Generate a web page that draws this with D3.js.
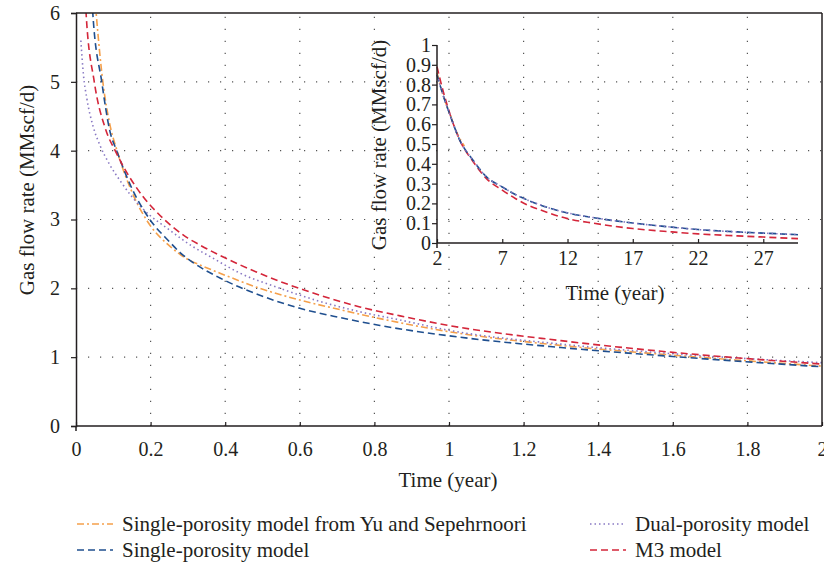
<!DOCTYPE html>
<html>
<head>
<meta charset="utf-8">
<script src="https://cdn.jsdelivr.net/npm/d3@7"></script>
<style>
  body { margin: 0; background: #fff; }
  text { font-family: "Liberation Serif", "DejaVu Serif", serif; fill: #231f20; }
</style>
</head>
<body>
<script>
// main chart data (time in years, rate in MMscf/d)
var yuTime  = [0.04, 0.054, 0.072, 0.09, 0.11, 0.15, 0.198, 0.25, 0.3, 0.332, 0.386, 0.493, 0.6, 0.708, 0.815, 1.0, 1.3, 1.6, 2.0];
var yuRate  = [7.0, 6.0, 5.0, 4.4, 4.0, 3.4, 2.92, 2.62, 2.42, 2.34, 2.22, 2.0, 1.83, 1.69, 1.56, 1.37, 1.17, 1.03, 0.87];
var spTime  = [0.035, 0.045, 0.069, 0.091, 0.109, 0.15, 0.198, 0.25, 0.279, 0.315, 0.386, 0.493, 0.6, 0.708, 0.815, 1.0, 1.3, 1.6, 2.0];
var spRate  = [7.0, 6.0, 5.0, 4.28, 4.0, 3.45, 3.0, 2.68, 2.52, 2.37, 2.15, 1.9, 1.71, 1.575, 1.46, 1.31, 1.14, 1.01, 0.86];
var dpTime  = [0.013, 0.02, 0.029, 0.046, 0.064, 0.09, 0.12, 0.15, 0.18, 0.25, 0.315, 0.36, 0.44, 0.547, 0.654, 0.761, 0.869, 1.0, 1.3, 1.6, 2.0];
var dpRate  = [5.6, 5.1, 4.76, 4.35, 4.08, 3.8, 3.55, 3.33, 3.15, 2.85, 2.6, 2.46, 2.22, 2.0, 1.81, 1.66, 1.54, 1.39, 1.19, 1.05, 0.92];
var m3Time  = [0.018, 0.027, 0.049, 0.08, 0.105, 0.18, 0.216, 0.3, 0.332, 0.44, 0.547, 0.654, 0.761, 0.869, 1.0, 1.3, 1.6, 2.0];
var m3Rate  = [7.0, 6.0, 5.0, 4.3, 4.0, 3.33, 3.11, 2.73, 2.63, 2.34, 2.1, 1.9, 1.73, 1.6, 1.46, 1.24, 1.07, 0.9];

// inset data (long-term)
var inYuTime = [2, 2.5, 3, 3.5, 4.1];
var inYuRate = [0.86, 0.74, 0.65, 0.56, 0.49];
var inSpTime = [2, 2.5, 3, 3.74, 4.76, 5.79, 7, 8, 9, 10, 12, 14, 17, 20, 22, 25, 27, 29.66];
var inSpRate = [0.85, 0.74, 0.646, 0.52, 0.418, 0.334, 0.283, 0.245, 0.215, 0.19, 0.152, 0.128, 0.101, 0.08, 0.068, 0.056, 0.05, 0.042];
var inDpRate = [0.85, 0.74, 0.646, 0.52, 0.418, 0.334, 0.283, 0.245, 0.215, 0.19, 0.152, 0.128, 0.101, 0.08, 0.068, 0.056, 0.05, 0.042];
var inM3Time = [2, 2.5, 3, 3.74, 4.76, 5.79, 7, 8, 9, 10, 12, 14, 17, 20, 22, 25, 27, 29.66];
var inM3Rate = [0.89, 0.76, 0.65, 0.52, 0.412, 0.325, 0.267, 0.225, 0.19, 0.165, 0.123, 0.1, 0.073, 0.056, 0.046, 0.036, 0.03, 0.022];

var xTicks = [0, 0.2, 0.4, 0.6, 0.8, 1, 1.2, 1.4, 1.6, 1.8, 2];
var yTicks = [0, 1, 2, 3, 4, 5, 6];
var inXTicks = [2, 7, 12, 17, 22, 27];
var inYTicks = [0, 0.1, 0.2, 0.3, 0.4, 0.5, 0.6, 0.7, 0.8, 0.9, 1];

var legendNames = ["Single-porosity model from Yu and Sepehrnoori", "Single-porosity model", "Dual-porosity model", "M3 model"];

var colors = { yu: "#f5a04b", sp: "#1f4f8f", dp: "#8878c3", m3: "#d4263a" };
var dashes = { yu: "7,3,2,3", sp: "7,4", dp: "1.5,3", m3: "7,4" };

var svg = d3.select("body").append("svg").attr("width", 824).attr("height", 564);

var x = d3.scaleLinear().domain([0, 2]).range([76, 822]);
var y = d3.scaleLinear().domain([0, 6]).range([426, 13]);

// grid
svg.append("g").selectAll("line").data(xTicks.slice(1, -1)).enter().append("line")
  .attr("x1", d => x(d)).attr("x2", d => x(d)).attr("y1", y(0)).attr("y2", y(6))
  .attr("stroke", "#555").attr("stroke-width", 1.2).attr("stroke-dasharray", "1.2,10.8");
svg.append("g").selectAll("line").data(yTicks.slice(1, -1)).enter().append("line")
  .attr("x1", x(0)).attr("x2", x(2)).attr("y1", d => y(d)).attr("y2", d => y(d))
  .attr("stroke", "#555").attr("stroke-width", 1.2).attr("stroke-dasharray", "1.2,10.8");

// clip
svg.append("clipPath").attr("id", "clip").append("rect")
  .attr("x", x(0)).attr("y", y(6)).attr("width", x(2) - x(0)).attr("height", y(0) - y(6));

function series(xs, ys) { return xs.map((t, i) => [t, ys[i]]); }

var line = d3.line().x(d => x(d[0])).y(d => y(d[1])).curve(d3.curveMonotoneX);
var mainSeries = [
  { key: "yu", pts: series(yuTime, yuRate) },
  { key: "dp", pts: series(dpTime, dpRate) },
  { key: "sp", pts: series(spTime, spRate) },
  { key: "m3", pts: series(m3Time, m3Rate) }
];
svg.append("g").attr("clip-path", "url(#clip)").selectAll("path").data(mainSeries).enter().append("path")
  .attr("d", d => line(d.pts)).attr("fill", "none")
  .attr("stroke", d => colors[d.key]).attr("stroke-width", 1.6)
  .attr("stroke-dasharray", d => dashes[d.key]);

// frame
svg.append("line").attr("x1", x(0)).attr("x2", x(2)).attr("y1", y(6)).attr("y2", y(6)).attr("stroke", "#231f20").attr("stroke-width", 1.5);
svg.append("line").attr("x1", x(2)).attr("x2", x(2)).attr("y1", y(6)).attr("y2", y(0)).attr("stroke", "#231f20").attr("stroke-width", 1.5);

// axes
var xAxis = svg.append("g").attr("transform", "translate(0," + y(0) + ")")
  .call(d3.axisBottom(x).tickValues(xTicks).tickSize(-4).tickPadding(16).tickFormat(d => d));
var yAxis = svg.append("g").attr("transform", "translate(" + x(0) + ",0)")
  .call(d3.axisLeft(y).tickValues(yTicks).tickSize(5).tickPadding(11).tickFormat(d => d));
[xAxis, yAxis].forEach(function(a) {
  a.select(".domain").attr("stroke", "#231f20").attr("stroke-width", 1.5);
  a.selectAll(".tick line").attr("stroke", "#231f20").attr("stroke-width", 1.2);
  a.selectAll("text").style("font-size", "20px").style("font-family", "Liberation Serif").attr("fill", "#231f20");
});
xAxis.select(".domain").attr("d", "M" + x(0) + ",0H" + x(2) + "M" + x(0) + ",0V5");

svg.append("text").attr("x", 448).attr("y", 487).attr("text-anchor", "middle").style("font-size", "21px").text("Time (year)");
svg.append("text").attr("transform", "translate(34,190) rotate(-90)").attr("text-anchor", "middle").style("font-size", "21px").text("Gas flow rate (MMscf/d)");

// inset
var ix = d3.scaleLinear().domain([2, 29.66]).range([437, 798]);
var iy = d3.scaleLinear().domain([0, 1]).range([243, 45]);
var iline = d3.line().x(d => ix(d[0])).y(d => iy(d[1])).curve(d3.curveMonotoneX);
var insetSeries = [
  { key: "yu", pts: series(inYuTime, inYuRate) },
  { key: "m3", pts: series(inM3Time, inM3Rate) },
  { key: "sp", pts: series(inSpTime, inSpRate) },
  { key: "dp", pts: series(inSpTime, inDpRate) }
];
svg.append("g").selectAll("path").data(insetSeries).enter().append("path")
  .attr("d", d => iline(d.pts)).attr("fill", "none")
  .attr("stroke", d => colors[d.key]).attr("stroke-width", 1.6)
  .attr("stroke-dasharray", d => dashes[d.key]);

var ixAxis = svg.append("g").attr("transform", "translate(0," + iy(0) + ")")
  .call(d3.axisBottom(ix).tickValues(inXTicks).tickSize(-4).tickPadding(8).tickFormat(d => d));
var iyAxis = svg.append("g").attr("transform", "translate(" + ix(2) + ",0)")
  .call(d3.axisLeft(iy).tickValues(inYTicks).tickSize(5).tickPadding(1).tickFormat(d => d === 0 || d === 1 ? d : d3.format(".1f")(d)));
[ixAxis, iyAxis].forEach(function(a) {
  a.select(".domain").attr("stroke", "#231f20").attr("stroke-width", 1.5);
  a.selectAll(".tick line").attr("stroke", "#231f20").attr("stroke-width", 1.2);
  a.selectAll("text").style("font-size", "20px").style("font-family", "Liberation Serif").attr("fill", "#231f20");
});
ixAxis.select(".domain").attr("d", "M" + ix(2) + ",0H" + ix(29.66) + "M" + ix(2) + ",0V5");
iyAxis.select(".domain").attr("d", "M0," + iy(0) + "V" + iy(1));

svg.append("text").attr("x", 615).attr("y", 300).attr("text-anchor", "middle").style("font-size", "21px").text("Time (year)");
svg.append("text").attr("transform", "translate(386,145) rotate(-90)").attr("text-anchor", "middle").style("font-size", "21px").text("Gas flow rate (MMscf/d)");

// legend
var legendItems = [
  { key: "yu", name: legendNames[0], lx: 77, ly: 524 },
  { key: "sp", name: legendNames[1], lx: 77, ly: 550 },
  { key: "dp", name: legendNames[2], lx: 590, ly: 524 },
  { key: "m3", name: legendNames[3], lx: 590, ly: 550 }
];
var lg = svg.append("g").selectAll("g").data(legendItems).enter().append("g")
  .attr("transform", d => "translate(" + d.lx + "," + d.ly + ")");
lg.append("line").attr("x1", 0).attr("x2", 36).attr("y1", 0).attr("y2", 0)
  .attr("stroke", d => colors[d.key]).attr("stroke-width", 1.6)
  .attr("stroke-dasharray", d => dashes[d.key]);
lg.append("text").attr("x", 45).attr("y", 7).style("font-size", "21px").text(d => d.name);
</script>
</body>
</html>
